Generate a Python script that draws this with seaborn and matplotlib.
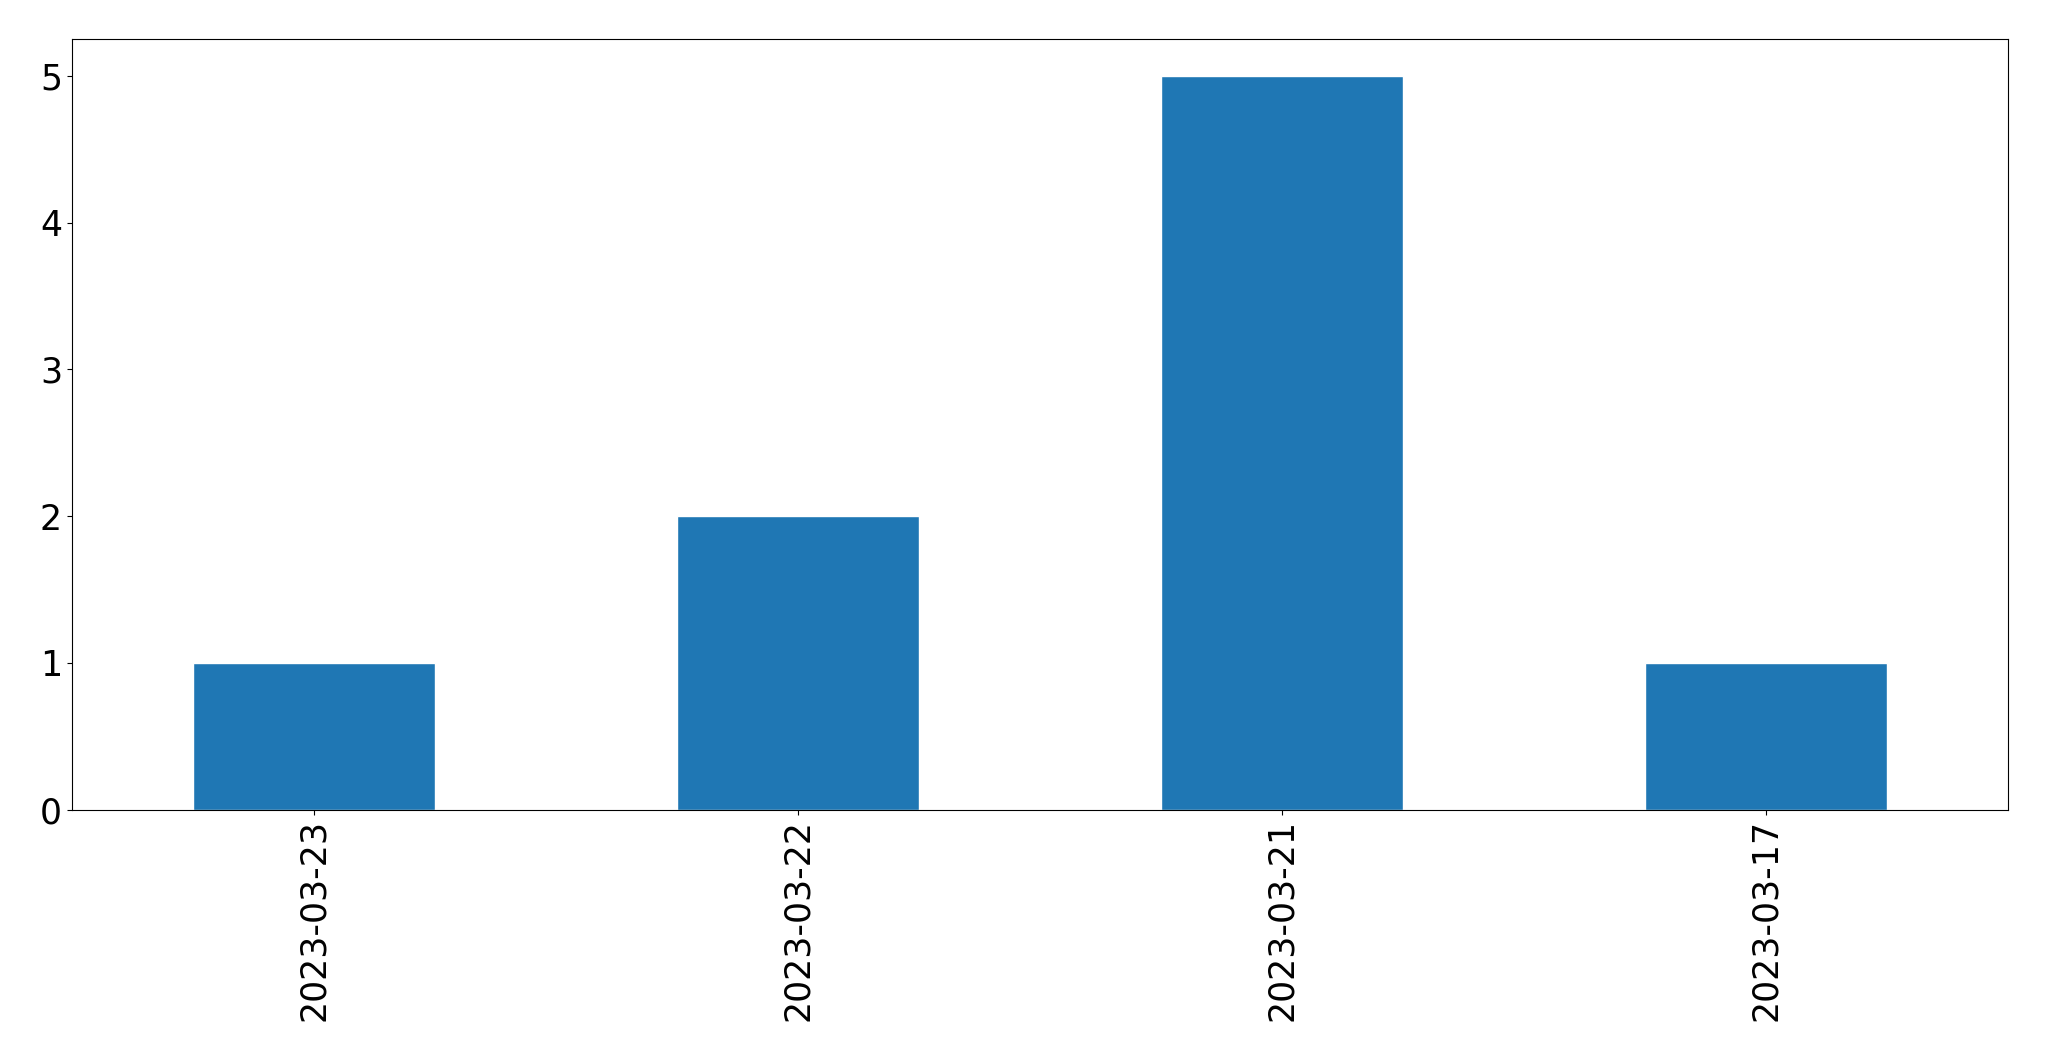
import matplotlib
matplotlib.use('Agg')
import matplotlib.pyplot as plt
import pandas as pd
import seaborn as sns

dates = ['2023-03-23', '2023-03-22', '2023-03-21', '2023-03-17']
counts = [1, 2, 5, 1]

df = pd.DataFrame({'date': dates, 'count': counts})

sns.set_style('white')
plt.rcParams['font.family'] = ['DejaVu Sans']

fig, ax = plt.subplots(figsize=(20.49, 10.61), dpi=100)
fig.subplots_adjust(left=0.035, right=0.98, top=0.963, bottom=0.237)

sns.barplot(data=df, x='date', y='count', order=dates, color='#1f77b4',
            saturation=1, width=0.5, ax=ax)

ax.set_xlabel('')
ax.set_ylabel('')
ax.set_xlim(-0.5, len(dates) - 0.5)
ax.set_ylim(0, 5.25)
ax.tick_params(axis='both', labelsize=25, length=3.5, width=0.8,
               left=True, bottom=True, color='black', labelcolor='black')
ax.tick_params(axis='x', labelrotation=90)
for spine in ax.spines.values():
    spine.set_visible(True)
    spine.set_color('black')
    spine.set_linewidth(0.8)

fig.savefig('out.png')
